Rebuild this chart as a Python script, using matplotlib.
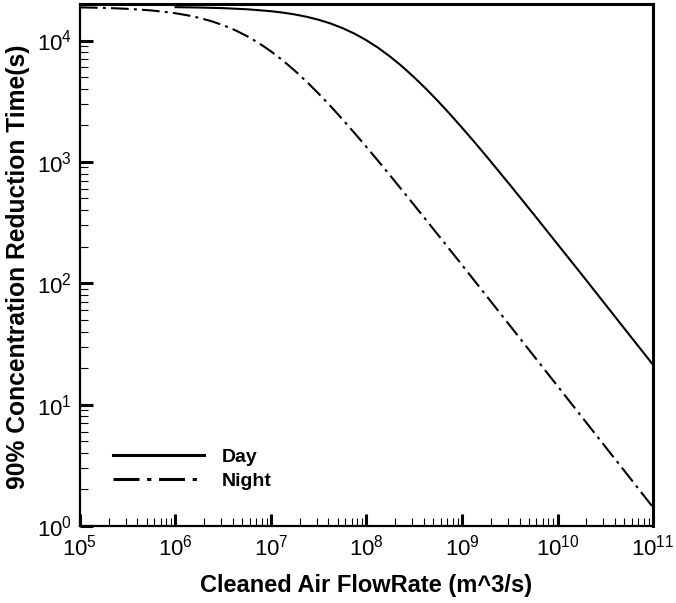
import matplotlib
matplotlib.use("Agg")
import matplotlib.pyplot as plt
from matplotlib.ticker import LogLocator, FixedLocator, NullFormatter
import numpy as np

plt.rcParams['font.family'] = ['Liberation Sans', 'DejaVu Sans']
plt.rcParams['mathtext.fontset'] = 'custom'
plt.rcParams['mathtext.rm'] = 'Liberation Sans'
plt.rcParams['mathtext.it'] = 'Liberation Sans'
plt.rcParams['mathtext.bf'] = 'Liberation Sans:bold'

# flow rate (m^3/s) and reduction time (s)
flow_day = [1.0e6, 1.78e6, 3.16e6, 5.62e6, 1.0e7, 1.33e7, 1.78e7, 2.37e7,
            3.16e7, 4.22e7, 5.62e7, 7.5e7, 1.0e8, 1.33e8, 1.78e8, 2.37e8,
            3.16e8, 4.22e8, 5.62e8, 7.5e8, 1.0e9, 1.33e9, 1.78e9, 3.16e9,
            5.62e9, 1.0e10, 1.78e10, 3.16e10, 5.62e10, 1.0e11]
time_day = [18830, 18700, 18480, 18090, 17440, 16980, 16390, 15680,
            14820, 13800, 12650, 11380, 10040, 8690, 7340, 6100,
            4970, 3985, 3160, 2470, 1913, 1476, 1125, 650,
            371, 210, 119, 67.1, 37.8, 21.3]

flow_night = [1.0e5, 1.33e5, 1.78e5, 2.37e5, 3.16e5, 4.22e5, 5.62e5, 7.5e5,
              1.0e6, 1.33e6, 1.78e6, 2.37e6, 3.16e6, 4.22e6, 5.62e6, 7.5e6,
              1.0e7, 1.33e7, 1.78e7, 2.37e7, 3.16e7, 4.22e7, 5.62e7, 7.5e7,
              1.0e8, 1.33e8, 1.78e8, 3.16e8, 5.62e8, 1.0e9, 1.78e9, 3.16e9,
              5.62e9, 1.0e10, 1.78e10, 3.16e10, 5.62e10, 1.0e11]
time_night = [18750, 18670, 18560, 18420, 18230, 17990, 17680, 17270,
              16770, 16140, 15360, 14440, 13370, 12160, 10860, 9500,
              8140, 6850, 5630, 4570, 3645, 2870, 2237, 1727,
              1326, 1014, 768, 440, 250, 141.5, 79.7, 45.0,
              25.3, 14.24, 8.0, 4.51, 2.54, 1.425]

xticks = [1e5, 1e6, 1e7, 1e8, 1e9, 1e10, 1e11]
xticklabels = [r'$10^{5}$', r'$10^{6}$', r'$10^{7}$', r'$10^{8}$',
               r'$10^{9}$', r'$10^{10}$', r'$10^{11}$']
yticks = [1e0, 1e1, 1e2, 1e3, 1e4]
yticklabels = [r'$10^{0}$', r'$10^{1}$', r'$10^{2}$', r'$10^{3}$', r'$10^{4}$']

fig = plt.figure(figsize=(6.76, 6.03), dpi=100)
ax = fig.add_axes([0.1183, 0.1277, 0.8477, 0.8657])

ax.plot(flow_day, time_day, color='k', lw=1.5, label='Day')
ax.plot(flow_night, time_night, color='k', lw=1.5,
        linestyle=(0, (8.5, 2.5, 1.4, 2.5)), label='Night')

ax.set_xscale('log')
ax.set_yscale('log')
ax.set_xlim(1e5, 1e11)
ax.set_ylim(1, 2e4)

ax.xaxis.set_major_locator(FixedLocator(xticks))
ax.set_xticklabels(xticklabels)
ax.yaxis.set_major_locator(FixedLocator(yticks))
ax.set_yticklabels(yticklabels)
ax.xaxis.set_minor_locator(LogLocator(base=10, subs=np.arange(2, 10), numticks=20))
ax.yaxis.set_minor_locator(LogLocator(base=10, subs=np.arange(2, 10), numticks=20))
ax.xaxis.set_minor_formatter(NullFormatter())
ax.yaxis.set_minor_formatter(NullFormatter())

ax.tick_params(which='major', direction='in', length=9, width=2.2,
               labelsize=16, top=False, right=False, pad=6)
ax.tick_params(which='minor', direction='in', length=5.5, width=0.8,
               top=False, right=False)

for side in ['left', 'bottom']:
    ax.spines[side].set_linewidth(1.6)
for side in ['right', 'top']:
    ax.spines[side].set_linewidth(2.2)

ax.set_xlabel('Cleaned Air FlowRate (m^3/s)', fontsize=17,
              fontweight='bold', labelpad=10)
ax.set_ylabel('90% Concentration Reduction Time(s)', fontsize=17.7,
              fontweight='bold')
ax.yaxis.set_label_coords(-0.088, 0.496)

leg = ax.legend(loc='upper left', bbox_to_anchor=(0.0576, 0.149), frameon=False,
                borderpad=0, borderaxespad=0,
                handlelength=4.7, handletextpad=0.9, labelspacing=0.35,
                prop={'weight': 'bold', 'size': 14})
for h in leg.get_lines():
    h.set_linewidth(2.2)

fig.savefig('out.png', dpi=100)
